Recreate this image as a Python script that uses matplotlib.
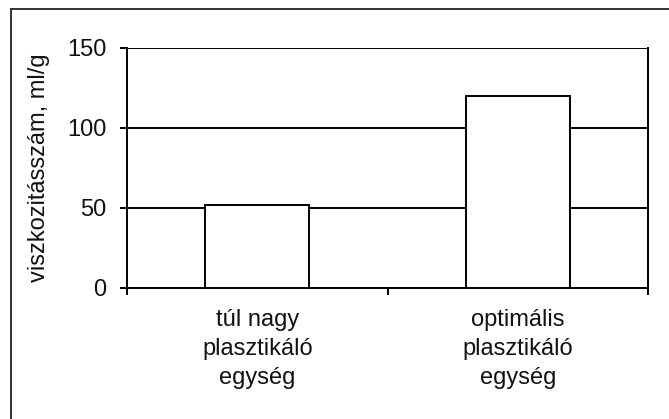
import matplotlib.pyplot as plt
from matplotlib.lines import Line2D

categories = ['túl nagy\nplasztikáló\negység', 'optimális\nplasztikáló\negység']
values = [52, 120]
yticks = [0, 50, 100, 150]

plt.rcParams['font.family'] = ['Liberation Sans', 'DejaVu Sans']
fs = 17

fig = plt.figure(figsize=(6.69, 4.19), dpi=100)
ax = fig.add_axes([127/669, 1-288/419, (648-127)/669, (288-48)/419])

pos = list(range(len(categories)))
ax.bar(pos, values, width=0.4, color='white', edgecolor='black', linewidth=1.4, zorder=3)

ax.set_xlim(-0.5, len(categories) - 0.5)
ax.set_ylim(0, 150)
ax.set_yticks(yticks)
ax.yaxis.grid(True, color='black', linewidth=1.4)
ax.set_axisbelow(True)

ax.set_xticks(pos)
ax.set_xticklabels(categories, fontsize=fs, color='#111111', linespacing=1.42)
ax.set_xticks([-0.5, 0.5, 1.5], minor=True)
ax.tick_params(axis='x', which='major', length=0, pad=15)
ax.tick_params(axis='x', which='minor', length=5, width=1.4, direction='out')
ax.tick_params(axis='y', length=5, width=1.4, direction='out', pad=10,
               labelsize=fs, labelcolor='#111111')

for s in ax.spines.values():
    s.set_linewidth(1.4)
ax.spines['top'].set_visible(False)

ax.set_ylabel('viszkozitásszám, ml/g', fontsize=fs, labelpad=12, color='#111111')

# outer chart border (only top and left visible in the crop)
fig.add_artist(Line2D([11/669, 11/669], [0, 1-9/419], color='#333333', linewidth=1.4))
fig.add_artist(Line2D([11/669, 1], [1-9/419, 1-9/419], color='#333333', linewidth=1.4))

plt.savefig('out.png', dpi=100)
